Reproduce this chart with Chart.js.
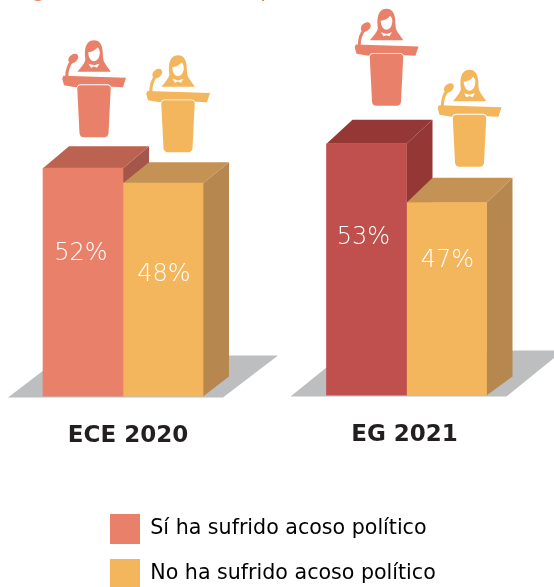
<!DOCTYPE html>
<html><head><meta charset="utf-8">
<style>html,body{margin:0;padding:0;background:#fff;overflow:hidden}
#w{position:relative;width:554px;height:587px}canvas{position:absolute;left:0;top:0}</style>
<script src="https://cdn.jsdelivr.net/npm/chart.js@4"></script></head>
<body><div id="w"><canvas id="a" width="554" height="587"></canvas><canvas id="b" width="554" height="587"></canvas></div>
<script>
const seriesNames = ['Sí ha sufrido acoso político', 'No ha sufrido acoso político'];
const categoryA = ['ECE 2020'];
const categoryB = ['EG 2021'];
const siA = [52];
const noA = [48];
const siB = [53];
const noB = [47];
const rangeA = [-8.8, 96.8];
const rangeB = [27.37, 67.64];

const SALMON='#E98069', AMBER='#F4B65C', RED='#BF504D', INK='#231F20', FONT='"DejaVu Sans",sans-serif';

function icon(ctx,x,y,col){
  ctx.save();ctx.translate(x,y);ctx.fillStyle=col;
  // hair and shoulders
  ctx.beginPath();ctx.moveTo(-16.5,-65.5);ctx.bezierCurveTo(-13,-70,-9,-74,-8.6,-78);
  ctx.bezierCurveTo(-9.5,-84,-10,-97,0,-97);ctx.bezierCurveTo(10,-97,8.5,-84,9.3,-78);
  ctx.bezierCurveTo(10,-74,14,-70,16.8,-65.5);ctx.closePath();ctx.fill();
  // face and collar
  ctx.fillStyle='#fff';
  ctx.beginPath();ctx.moveTo(-5.8,-85);ctx.quadraticCurveTo(0,-85.5,3.8,-90);ctx.quadraticCurveTo(6,-87.5,5.8,-84);
  ctx.bezierCurveTo(5.6,-79,2.5,-76,0,-76);ctx.bezierCurveTo(-2.5,-76,-5.6,-79,-5.8,-85);ctx.fill();
  ctx.beginPath();ctx.moveTo(-5.5,-73.5);ctx.lineTo(0,-71.8);ctx.lineTo(5.5,-73.5);ctx.lineTo(3,-69.5);ctx.lineTo(0,-70.6);ctx.lineTo(-3,-69.5);ctx.closePath();ctx.fill();
  ctx.fillStyle=col;ctx.strokeStyle=col;
  // microphone
  ctx.lineWidth=3;ctx.beginPath();ctx.moveTo(-27.3,-60);ctx.quadraticCurveTo(-27,-71,-22,-76);ctx.stroke();
  ctx.beginPath();ctx.ellipse(-20.7,-78.7,5.6,4,-0.7,0,Math.PI*2);ctx.fill();
  // lectern slab
  ctx.beginPath();ctx.moveTo(-30.7,-61.3);ctx.lineTo(32,-59.3);ctx.lineTo(29,-50);ctx.lineTo(18,-50.5);ctx.lineTo(-18,-50);ctx.lineTo(-30,-52);ctx.lineTo(-31.8,-58.5);ctx.closePath();ctx.fill();
  // pedestal
  ctx.strokeStyle='#fff';ctx.lineWidth=1.6;
  ctx.beginPath();ctx.moveTo(-13,-52);ctx.lineTo(13,-52);ctx.quadraticCurveTo(17,-52,16.7,-48);ctx.lineTo(14.5,-4);ctx.quadraticCurveTo(14,0,10,0);ctx.lineTo(-10,0);ctx.quadraticCurveTo(-14,0,-14.5,-4);ctx.lineTo(-16.7,-48);ctx.quadraticCurveTo(-17,-52,-13,-52);ctx.closePath();ctx.stroke();ctx.fill();
  ctx.restore();
}
function poly(ctx,col,pts){ctx.fillStyle=col;ctx.beginPath();pts.forEach((p,i)=>i?ctx.lineTo(p[0],p[1]):ctx.moveTo(p[0],p[1]));ctx.closePath();ctx.fill();}

const scene = {
  id:'scene',
  afterLayout(chart){
    if(chart.legend&&chart.options.plugins.legend.display){
      const g=chart.legend;g.left=95;g.top=499;g.right=554;g.bottom=587;g.width=459;g.height=88;
    }
  },
  beforeDatasetsDraw(chart){
    const s=chart.options.plugins.scene, ctx=chart.ctx;
    const m0=chart.getDatasetMeta(0).data[0], m1=chart.getDatasetMeta(1).data[0];
    const b=m0.base, l=m0.x-m0.width/2, r=m1.x+m1.width/2;
    // floor
    const f=s.floor;
    poly(ctx,'#BCBEC0',[[l-f[0],b+1],[r+f[1],b+1],[r+f[1]+f[2],b+1-f[3]],[l-f[0]+f[2],b+1-f[3]]]);
    // 3D faces, back bar first
    [[m0,s.top0,s.side0],[m1,s.top1,s.side1]].forEach(([e,top,side],i)=>{
      const x0=e.x-e.width/2,x1=e.x+e.width/2,dx=s.dx,dy=s.dy[i],by=s.by;
      poly(ctx,side,[[x1,e.y],[x1+dx,e.y-dy],[x1+dx,b-by],[x1,b]]);
      poly(ctx,top,[[x0,e.y],[x0+dx,e.y-dy],[x1+dx,e.y-dy],[x1,e.y]]);
    });
    // speakers
    icon(ctx,m0.x+s.ix[0],m0.y-s.iy[0],SALMON);
    icon(ctx,m1.x+s.ix[1],m1.y-s.iy[1],AMBER);
  },
  afterDatasetsDraw(chart){
    const s=chart.options.plugins.scene, ctx=chart.ctx;
    ctx.save();ctx.fillStyle='#fff';ctx.font='200 24px '+FONT;ctx.textAlign='center';ctx.textBaseline='middle';
    [0,1].forEach(i=>{
      const e=chart.getDatasetMeta(i).data[0];
      ctx.fillText(chart.data.datasets[i].data[0]+'%',e.x+s.lx[i],e.y+s.ly[i]);
    });
    ctx.restore();
    if(s.cropped){
      ctx.save();ctx.fillStyle=SALMON;ctx.font='22px '+FONT;ctx.textBaseline='alphabetic';
      ctx.fillText('g',32,-3);ctx.fillText('p',260,-3);ctx.restore();
    }
  },
  beforeDraw(chart){
    const s=chart.options.plugins.scene, x=chart.scales.x;
    x.getLabelItems().forEach(it=>{ if(!it.moved){it.options.translation[0]+=s.tx;it.moved=true;} });
  }
};

function make(id,labels,vals,range,cols,pad,legend,sc){
  return new Chart(document.getElementById(id),{
    type:'bar',
    data:{labels,datasets:[
      {label:seriesNames[0],data:vals[0],backgroundColor:cols[0],base:range[0],barThickness:80,borderWidth:0},
      {label:seriesNames[1],data:vals[1],backgroundColor:cols[1],base:range[0],barThickness:80,borderWidth:0}]},
    plugins:[scene],
    options:{responsive:false,animation:false,devicePixelRatio:1,
      layout:{padding:pad},
      scales:{
        x:{offset:true,grid:{display:false,drawTicks:false},border:{display:false},
           ticks:{color:INK,padding:26,font:{family:FONT,size:23,weight:'bold'}}},
        y:{display:false,min:range[0],max:range[1]}},
      plugins:{tooltip:{enabled:false},
        legend:{display:legend,position:'bottom',align:'start',
          labels:{boxWidth:30,boxHeight:30,padding:15,color:INK,font:{family:FONT,size:20.6},
            generateLabels:()=>seriesNames.map((t,i)=>({text:t,fillStyle:[SALMON,AMBER][i],strokeStyle:[SALMON,AMBER][i],lineWidth:0,datasetIndex:i}))}},
        scene:sc}}
  });
}
make('a',categoryA,[siA,noA],rangeA,[SALMON,AMBER],{left:0,right:308,top:0,bottom:11},true,
 {floor:[35,20,55,42],dx:26,dy:[22,21],by:20,top0:'#BB6250',side0:'#A5564A',top1:'#C49254',side1:'#B6884F',ix:[11,15],iy:[31,31],lx:[-2,1],ly:[86,92],tx:5,cropped:true});
make('b',categoryB,[siB,noB],rangeB,[RED,AMBER],{left:259,right:0,top:0,bottom:112},false,
 {floor:[36,20,57,46],dx:26,dy:[24,25],by:19,top0:'#953735',side0:'#953735',top1:'#C49254',side1:'#B6884F',ix:[20,23],iy:[38,36],lx:[-3,1],ly:[94,58],tx:-2,cropped:false});
</script></body></html>
